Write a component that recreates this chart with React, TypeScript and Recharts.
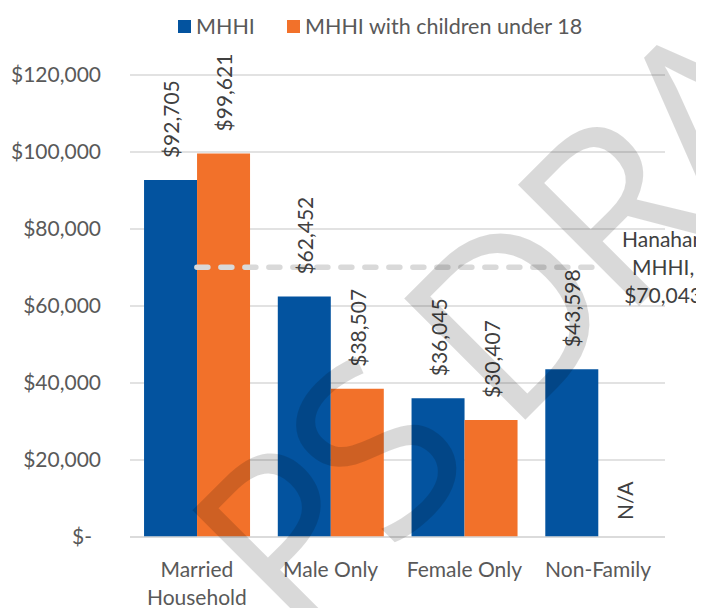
import { ComposedChart, Bar, Line, XAxis, YAxis, CartesianGrid, LabelList } from 'recharts';

const categories = ['Married Household', 'Male Only', 'Female Only', 'Non-Family'];
const mhhi = [92705, 62452, 36045, 43598];
const mhhiKids: (number | null)[] = [99621, 38507, 30407, null];
const hanahanMhhi = 70043;
const yTicks = [0, 20000, 40000, 60000, 80000, 100000, 120000];

const BLUE = '#03539F';
const ORANGE = '#F2712A';
const GRID = '#D9D9D9';
const TEXT = '#595959';
const FONT = 'Lato, sans-serif';
const FS = 21;

const data = categories.map((name, i) => ({
  name,
  mhhi: mhhi[i],
  kids: mhhiKids[i] ?? 0,
  kidsNA: mhhiKids[i] == null,
  hanahan: hanahanMhhi,
}));

const money = (v: number) => '$' + v.toLocaleString('en-US');

function YTick({ x, y, payload }: any) {
  const v = payload.value as number;
  return (
    <text x={v === 0 ? x - 9 : x} y={y} dy="0.35em" textAnchor="end" fill={TEXT} fontSize={FS} fontFamily={FONT}>
      {v === 0 ? '$-' : money(v)}
    </text>
  );
}

function XTick({ x, y, payload }: any) {
  const words = (payload.value as string) === 'Married Household' ? ['Married', 'Household'] : [payload.value];
  return (
    <text x={x} y={y} textAnchor="middle" fill={TEXT} fontSize={FS} fontFamily={FONT}>
      {words.map((w: string, i: number) => (
        <tspan key={w} x={x} dy={i === 0 ? 32 : 28}>
          {w}
        </tspan>
      ))}
    </text>
  );
}

function VText({ cx, y, children }: { cx: number; y: number; children: string }) {
  return (
    <text
      x={cx}
      y={y}
      transform={`rotate(-90, ${cx}, ${y})`}
      textAnchor="start"
      dominantBaseline="central"
      fill="#404040"
      fontSize={FS}
      fontFamily={FONT}
    >
      {children}
    </text>
  );
}

// value label above a bar; for the blue bar also draws "N/A" in the empty orange slot
function BarValue({ x, y, width, height, value, series }: any) {
  const cx = x + width / 2;
  const row = data.find((d) => (series === 'mhhi' ? d.mhhi : d.kids) === value);
  if (series === 'kids' && row?.kidsNA) return null;
  return (
    <g>
      <VText cx={cx} y={y - 22}>{money(value)}</VText>
      {series === 'mhhi' && row?.kidsNA && <VText cx={x + width * 1.5} y={y + height - 17}>N/A</VText>}
    </g>
  );
}

function HanahanLabel({ x, y, index }: any) {
  if (index !== categories.length - 1) return null;
  const lx = x + 65;
  return (
    <text x={lx} y={y} textAnchor="middle" fill="#404040" fontSize={FS} fontFamily={FONT}>
      <tspan x={lx} dy={-20.5}>Hanahan</tspan>
      <tspan x={lx} dy={28}>MHHI,</tspan>
      <tspan x={lx} dy={28}>{money(hanahanMhhi)}</tspan>
    </text>
  );
}

function LegendItem({ color, label, left }: { color: string; label: string; left: number }) {
  return (
    <span style={{ position: 'absolute', left, top: 6, display: 'inline-flex', alignItems: 'center', gap: 5, whiteSpace: 'nowrap' }}>
      <span style={{ display: 'inline-block', width: 13, height: 13, background: color }} />
      {label}
    </span>
  );
}

export default function App() {
  return (
    <div style={{ position: 'relative', width: 696, height: 600, overflow: 'hidden', fontFamily: FONT }}>
      <div style={{ position: 'absolute', inset: 0, fontSize: 21.5, color: TEXT, lineHeight: '24px' }}>
        <LegendItem color={BLUE} label="MHHI" left={170} />
        <LegendItem color={ORANGE} label="MHHI with children under 18" left={279} />
      </div>
      <ComposedChart
        width={696}
        height={600}
        data={data}
        margin={{ top: 67, right: 39, bottom: 0, left: 0 }}
        barCategoryGap="10.5%"
        barGap={0}
      >
        <CartesianGrid vertical={false} stroke={GRID} strokeWidth={1.5} />
        <XAxis dataKey="name" tickLine={false} axisLine={{ stroke: GRID, strokeWidth: 1.5 }} height={71} tick={<XTick />} interval={0} />
        <YAxis
          domain={[0, 120000]}
          ticks={yTicks}
          width={122}
          tickLine={false}
          axisLine={false}
          tickMargin={23}
          tick={<YTick />}
        />
        <Bar dataKey="mhhi" fill={BLUE} isAnimationActive={false}>
          <LabelList dataKey="mhhi" content={(p: any) => <BarValue {...p} series="mhhi" />} />
        </Bar>
        <Bar dataKey="kids" fill={ORANGE} isAnimationActive={false}>
          <LabelList dataKey="kids" content={(p: any) => <BarValue {...p} series="kids" />} />
        </Bar>
        <Line
          dataKey="hanahan"
          stroke={GRID}
          strokeWidth={5.5}
          strokeDasharray="11 13"
          strokeLinecap="round"
          dot={false}
          activeDot={false}
          isAnimationActive={false}
          label={<HanahanLabel />}
        />
      </ComposedChart>
      {/* watermark */}
      <svg width={696} height={600} style={{ position: 'absolute', top: 0, left: 0, pointerEvents: 'none' }}>
        <text
          x={289}
          y={640}
          transform="rotate(-45, 289, 640)"
          textAnchor="start"
          fontSize={240}
          fontWeight={500}
          letterSpacing={-13}
          fontFamily="'Open Sans', sans-serif"
          fill="#000"
          fillOpacity={0.15}
        >
          PS DRAFT
        </text>
      </svg>
    </div>
  );
}
